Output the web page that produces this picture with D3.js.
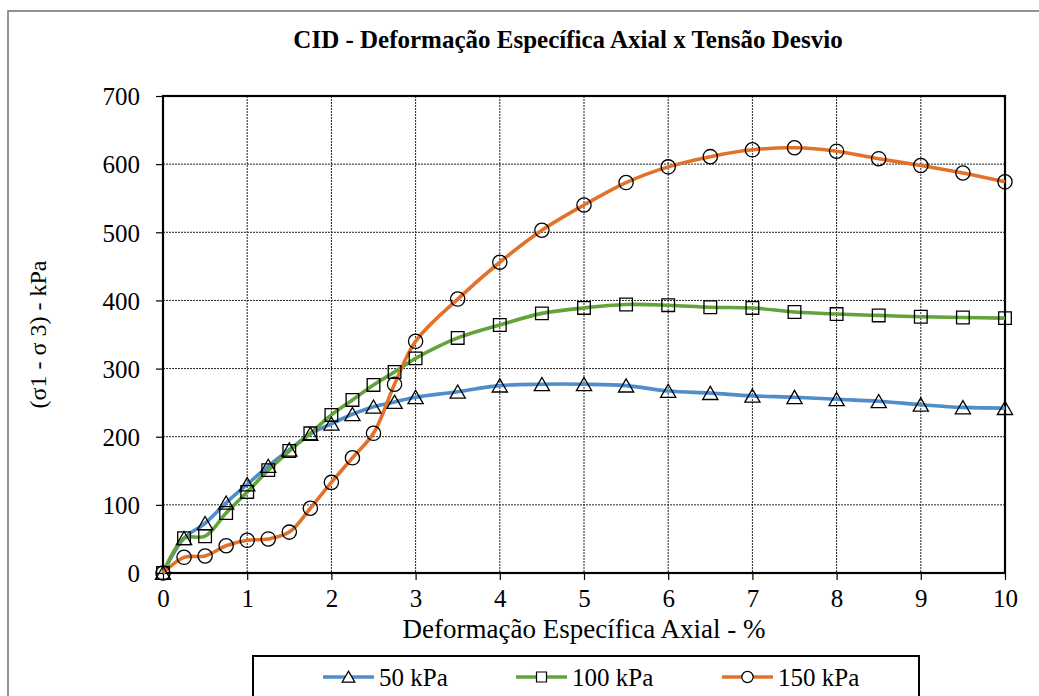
<!DOCTYPE html>
<html>
<head>
<meta charset="utf-8">
<script src="https://cdn.jsdelivr.net/npm/d3@7"></script>
<style>
  html, body { margin: 0; padding: 0; background: #fff; }
</style>
</head>
<body>
<svg id="chart" width="1039" height="696"></svg>
<script>
// Axial strain (%) at each reading
const strain = [0, 0.25, 0.5, 0.75, 1, 1.25, 1.5, 1.75, 2, 2.25, 2.5, 2.75, 3,
                3.5, 4, 4.5, 5, 5.5, 6, 6.5, 7, 7.5, 8, 8.5, 9, 9.5, 10];
// Deviator stress (kPa) per confining pressure
const s50  = [0, 51, 73, 103, 130, 157, 181, 204, 219, 233, 244, 251, 258,
              266, 275, 277, 277, 275, 267, 264, 260, 258, 255, 252, 247, 243, 242];
const s100 = [0, 51, 54, 88, 119, 151, 179, 205, 232, 254, 276, 295, 315,
              345, 364, 381, 389, 394, 393, 390, 389, 383, 380, 378, 376, 375, 374];
const s150 = [0, 23, 25, 40, 48, 50, 60, 95, 133, 169, 205, 277, 340,
              402, 456, 503, 540, 573, 596, 611, 621, 624, 619, 608, 598, 587, 574];
const seriesNames = ["50 kPa", "100 kPa", "150 kPa"];
const xTicks = [0, 1, 2, 3, 4, 5, 6, 7, 8, 9, 10];
const yTicks = [0, 100, 200, 300, 400, 500, 600, 700];

const FONT = "'Liberation Serif', Tinos, 'Times New Roman', Times, 'DejaVu Serif', serif";
const colors = ["#4f8dcb", "#62a33c", "#e2722b"];
const shapes = [d3.symbolTriangle, d3.symbolSquare, d3.symbolCircle];
const symbolSizes = [100, 160, 160];

const svg = d3.select("#chart").attr("font-family", FONT);
const L = 163, R = 1005, T = 96, B = 573;

const x = d3.scaleLinear().domain([0, 10]).range([L, R]);
const y = d3.scaleLinear().domain([0, 700]).range([B, T]);

// outer chart frame
svg.append("rect").attr("x", 8).attr("y", 11).attr("width", 1100).attr("height", 760)
  .attr("fill", "none").attr("stroke", "#707070").attr("stroke-width", 1.5);

// title
svg.append("text").attr("x", 568).attr("y", 48).attr("text-anchor", "middle")
  .attr("font-family", FONT).attr("font-size", 25).attr("font-weight", "bold")
  .text("CID - Deformação Específica Axial x Tensão Desvio");

// dotted gridlines
const grid = svg.append("g");
grid.selectAll("line.v").data(xTicks.slice(1, -1)).join("line")
  .attr("x1", d => x(d)).attr("x2", d => x(d)).attr("y1", T).attr("y2", B)
  .attr("stroke", "#222").attr("stroke-width", 1).attr("stroke-dasharray", "2,1");
grid.selectAll("line.h").data(yTicks.slice(1, -1)).join("line")
  .attr("x1", L).attr("x2", R).attr("y1", d => y(d)).attr("y2", d => y(d))
  .attr("stroke", "#222").attr("stroke-width", 1).attr("stroke-dasharray", "2,1");

// axes
const xAxis = d3.axisBottom(x).tickValues(xTicks).tickSize(7).tickPadding(9).tickFormat(d3.format("d"));
const yAxis = d3.axisLeft(y).tickValues(yTicks).tickSize(7).tickPadding(16).tickFormat(d3.format("d"));
const gx = svg.append("g").attr("transform", `translate(0,${B})`).call(xAxis);
const gy = svg.append("g").attr("transform", `translate(${L},0)`).call(yAxis);
[gx, gy].forEach(g => {
  g.attr("font-family", FONT).attr("font-size", 25);
  g.select(".domain").remove();
  g.selectAll(".tick line").attr("stroke", "#000").attr("stroke-width", 1.2);
  g.selectAll(".tick text").attr("fill", "#000");
});
gy.selectAll(".tick text").attr("dy", "0.35em");

// plot frame
svg.append("rect").attr("x", L).attr("y", T).attr("width", R - L).attr("height", B - T)
  .attr("fill", "none").attr("stroke", "#000").attr("stroke-width", 2.2);

// axis titles
svg.append("text").attr("x", (L + R) / 2).attr("y", 638).attr("text-anchor", "middle")
  .attr("font-family", FONT).attr("font-size", 27).text("Deformação Específica Axial - %");
svg.append("text").attr("transform", `translate(46,${(T + B) / 2}) rotate(-90)`)
  .attr("text-anchor", "middle").attr("font-family", FONT).attr("font-size", 24)
  .text("(σ1 - σ 3) - kPa");

// smoothed curves with markers
const allSeries = [s50, s100, s150];
const line = d3.line().x(d => x(d[0])).y(d => y(d[1])).curve(d3.curveCatmullRom.alpha(0.5));
allSeries.forEach((vals, i) => {
  const pts = strain.map((s, k) => [s, vals[k]]);
  svg.append("path").datum(pts).attr("d", line)
    .attr("fill", "none").attr("stroke", colors[i]).attr("stroke-width", 3.6)
    .attr("stroke-linejoin", "round");
});
allSeries.forEach((vals, i) => {
  const pts = strain.map((s, k) => [s, vals[k]]);
  const off = i === 0 ? 2 : 0;
  svg.append("g").selectAll("path").data(pts).join("path")
    .attr("transform", d => `translate(${x(d[0])},${y(d[1]) + off})`)
    .attr("d", d3.symbol().type(shapes[i]).size(symbolSizes[i]))
    .attr("fill", "none").attr("stroke", "#000").attr("stroke-width", 1.3);
});

// legend
svg.append("rect").attr("x", 253).attr("y", 656).attr("width", 666).attr("height", 60)
  .attr("fill", "#fff").attr("stroke", "#000").attr("stroke-width", 2);
const legendX = [323, 516, 722];
const lg = svg.append("g").selectAll("g").data(seriesNames).join("g")
  .attr("transform", (d, i) => `translate(${legendX[i]},677)`);
lg.append("line").attr("x1", 0).attr("x2", 51).attr("y1", 0).attr("y2", 0)
  .attr("stroke", (d, i) => colors[i]).attr("stroke-width", 3.6);
lg.append("path").attr("transform", (d, i) => `translate(25.5,${i === 0 ? 1.5 : 0})`)
  .attr("d", (d, i) => d3.symbol().type(shapes[i]).size(i === 0 ? 70 : 100)())
  .attr("fill", "#fff").attr("stroke", "#000").attr("stroke-width", 1.2);
lg.append("text").attr("x", 56).attr("y", 0).attr("dy", "0.35em")
  .attr("font-family", FONT).attr("font-size", 25).text(d => d);
</script>
</body>
</html>
